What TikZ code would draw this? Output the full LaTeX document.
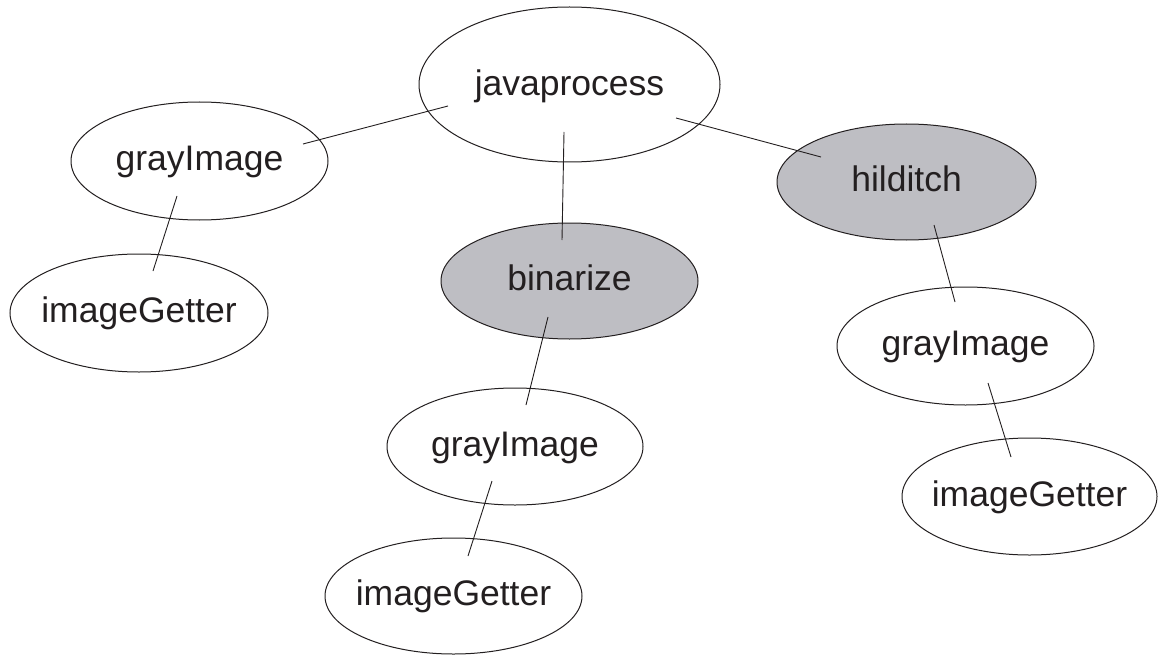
\documentclass[tikz,border=0pt]{standalone}
\usepackage{fontspec}
\setmainfont{Liberation Sans}
\usetikzlibrary{shapes.geometric}
\definecolor{procfill}{RGB}{190,190,195}
\definecolor{ink}{RGB}{35,31,32}
% label set in a zero-width box so the ellipse size is fixed by its minimum size only
\newcommand\ctext[1]{\makebox[0pt]{#1}}
\begin{document}
\begin{tikzpicture}[x=1pt,y=-1pt,
  proc/.style={ellipse, draw=ink, line width=1pt, inner sep=0pt, fill=white,
               text height=26pt, text depth=7pt,
               font=\fontsize{35.5}{40}\selectfont, text=ink},
  active/.style={proc, fill=procfill},
  link/.style={draw=ink, line width=0.9pt}]
\useasboundingbox (0,0) rectangle (1158,655);

% process nodes
\node[proc,   minimum width=301pt, minimum height=155pt, text height=29pt] (jp) at (569.5,84.5) {\ctext{javaprocess}};
\node[proc,   minimum width=257pt, minimum height=118pt] (gl)  at (199.5,161)  {\ctext{grayImage}};
\node[proc,   minimum width=258pt, minimum height=118pt] (igl) at (139,313)    {\ctext{imageGetter}};
\node[active, minimum width=257pt, minimum height=116pt] (bin) at (569.5,281)  {\ctext{binarize}};
\node[active, minimum width=259pt, minimum height=116pt] (hil) at (906.5,182)  {\ctext{hilditch}};
\node[proc,   minimum width=256pt, minimum height=117pt] (gm)  at (515,446.5)  {\ctext{grayImage}};
\node[proc,   minimum width=257pt, minimum height=116pt] (igm) at (453.5,596)  {\ctext{imageGetter}};
\node[proc,   minimum width=257pt, minimum height=118pt] (gr)  at (965.5,346)  {\ctext{grayImage}};
\node[proc,   minimum width=255pt, minimum height=117pt] (igr) at (1029.5,496.5) {\ctext{imageGetter}};

% call links, running from inside one ellipse to inside the other
\draw[link] ([shift={(-121.5,21.5)}]jp.center) -- ([shift={(103.5,-17)}]gl.center);
\draw[link] ([shift={(-5.5,47.5)}]jp.center)   -- ([shift={(-7.5,-41)}]bin.center);
\draw[link] ([shift={(106.5,33.5)}]jp.center)  -- ([shift={(-85.5,-25)}]hil.center);
\draw[link] ([shift={(-22.5,35)}]gl.center)  -- ([shift={(14,-42)}]igl.center);
\draw[link] ([shift={(-21.5,36)}]bin.center) -- ([shift={(11,-41.5)}]gm.center);
\draw[link] ([shift={(-23,34.5)}]gm.center)  -- ([shift={(14.5,-40)}]igm.center);
\draw[link] ([shift={(27.5,43)}]hil.center)  -- ([shift={(-10.5,-44)}]gr.center);
\draw[link] ([shift={(22.5,37)}]gr.center)   -- ([shift={(-18.5,-39.5)}]igr.center);
\end{tikzpicture}
\end{document}
